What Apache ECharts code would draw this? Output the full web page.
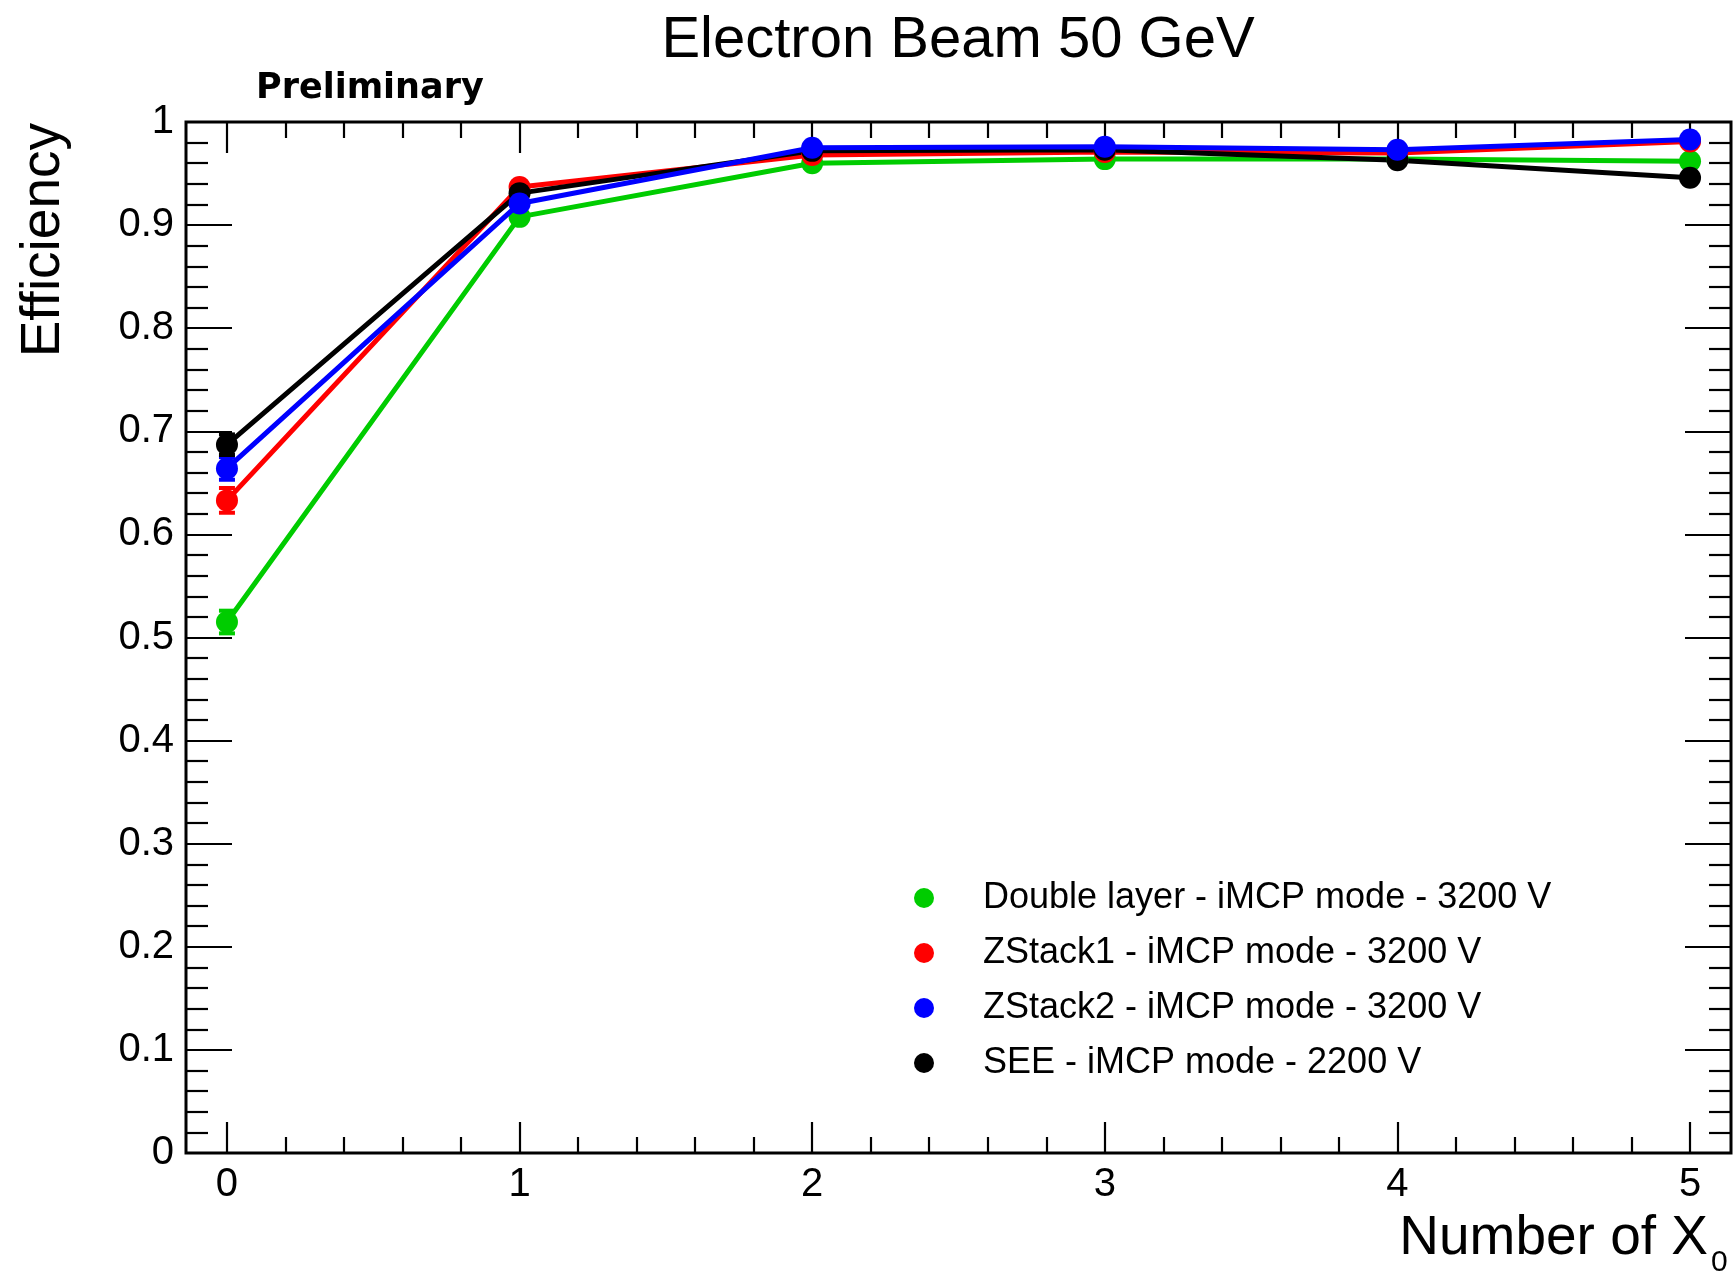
<!DOCTYPE html>
<html>
<head>
<meta charset="utf-8">
<script src="https://cdn.jsdelivr.net/npm/echarts@6.0.0/dist/echarts.min.js"></script>
<style>
html,body{margin:0;padding:0;background:#fff}
#main{width:1734px;height:1274px}
</style>
</head>
<body>
<div id="main"></div>
<script>
// 数据
var xValues = [0, 1, 2, 3, 4, 5];
var names = [
    'Double layer - iMCP mode - 3200 V',
    'ZStack1 - iMCP mode - 3200 V',
    'ZStack2 - iMCP mode - 3200 V',
    'SEE - iMCP mode - 2200 V'
];
var colors = ['#00cc00', '#ff0000', '#0000ff', '#000000'];
var effDouble = [0.515, 0.908, 0.960, 0.964, 0.964, 0.962];
var effZStack1 = [0.633, 0.937, 0.968, 0.971, 0.970, 0.981];
var effZStack2 = [0.664, 0.921, 0.975, 0.976, 0.973, 0.983];
var effSEE = [0.687, 0.931, 0.972, 0.973, 0.963, 0.946];
var errDouble = [0.011, 0.005, 0.004, 0.004, 0.004, 0.004];
var errZStack1 = [0.012, 0.005, 0.004, 0.004, 0.004, 0.004];
var errZStack2 = [0.011, 0.005, 0.004, 0.004, 0.004, 0.004];
var errSEE = [0.010, 0.005, 0.004, 0.004, 0.004, 0.004];
var xRange = [-0.14, 5.14];
var yRange = [0, 1];

var effs = [effDouble, effZStack1, effZStack2, effSEE];
var errs = [errDouble, errZStack1, errZStack2, errSEE];

// 画框位置
var frameL = 186, frameR = 1731, frameT = 122, frameB = 1153;
var frameW = frameR - frameL, frameH = frameB - frameT;
// 刻度用的内部网格 (0..5)
var tickL = frameL + (0 - xRange[0]) / (xRange[1] - xRange[0]) * frameW;
var tickR = frameL + (5 - xRange[0]) / (xRange[1] - xRange[0]) * frameW;

var FONT = 'Liberation Sans, Arial, Helvetica, sans-serif';

var myChart = echarts.init(document.getElementById('main'));

function pairs(ys) {
    var out = [];
    for (var i = 0; i < xValues.length; i++) out.push([xValues[i], ys[i]]);
    return out;
}

var errData = [];
for (var s = 0; s < effs.length; s++) {
    for (var i = 0; i < xValues.length; i++) {
        errData.push([xValues[i], effs[s][i], errs[s][i], s]);
    }
}

var tickStyle = { color: '#000', width: 2.2 };

var series = [{
    type: 'custom',
    xAxisIndex: 0,
    yAxisIndex: 0,
    data: errData,
    silent: true,
    renderItem: function (params, api) {
        var x = api.value(0), y = api.value(1), e = api.value(2);
        var c = colors[api.value(3)];
        var lo = api.coord([x, y - e]);
        var hi = api.coord([x, y + e]);
        var st = { stroke: c, lineWidth: 4 };
        return {
            type: 'group',
            children: [
                { type: 'line', shape: { x1: lo[0], y1: lo[1], x2: hi[0], y2: hi[1] }, style: st },
                { type: 'line', shape: { x1: lo[0] - 8, y1: lo[1], x2: lo[0] + 8, y2: lo[1] }, style: st },
                { type: 'line', shape: { x1: hi[0] - 8, y1: hi[1], x2: hi[0] + 8, y2: hi[1] }, style: st }
            ]
        };
    }
}];
for (var k = 0; k < effs.length; k++) {
    series.push({
        name: names[k],
        type: 'line',
        xAxisIndex: 0,
        yAxisIndex: 0,
        data: pairs(effs[k]),
        symbol: 'circle',
        symbolSize: 22,
        z: k === 2 ? 3 : 2,
        lineStyle: { color: colors[k], width: 5 },
        itemStyle: { color: colors[k] },
        emphasis: { disabled: true }
    });
}

var option = {
    backgroundColor: '#ffffff',
    animation: false,
    grid: [
        { left: frameL, top: frameT, width: frameW, height: frameH, show: true, borderColor: '#000', borderWidth: 3, containLabel: false },
        { left: tickL, top: frameT, width: tickR - tickL, height: frameH, show: false, containLabel: false }
    ],
    xAxis: [
        { gridIndex: 0, type: 'value', min: xRange[0], max: xRange[1], axisLine: { show: false, onZero: false }, axisTick: { show: false }, axisLabel: { show: false }, splitLine: { show: false } },
        {
            gridIndex: 1, type: 'value', position: 'bottom', min: 0, max: 5, interval: 1,
            axisLine: { show: false, onZero: false }, splitLine: { show: false },
            axisTick: { show: true, inside: true, length: 31, lineStyle: tickStyle },
            minorTick: { show: true, splitNumber: 5, length: 16, lineStyle: tickStyle },
            axisLabel: { show: true, margin: 12, fontSize: 40, color: '#000', fontFamily: FONT }
        },
        {
            gridIndex: 1, type: 'value', position: 'top', min: 0, max: 5, interval: 1,
            axisLine: { show: false, onZero: false }, splitLine: { show: false },
            axisTick: { show: true, inside: true, length: 31, lineStyle: tickStyle },
            minorTick: { show: true, splitNumber: 5, length: 16, lineStyle: tickStyle },
            axisLabel: { show: false }
        }
    ],
    yAxis: [
        {
            gridIndex: 0, type: 'value', position: 'left', min: yRange[0], max: yRange[1], interval: 0.1,
            axisLine: { show: false, onZero: false }, splitLine: { show: false },
            axisTick: { show: true, inside: true, length: 46, lineStyle: tickStyle },
            minorTick: { show: true, splitNumber: 5, length: 22, lineStyle: tickStyle },
            axisLabel: { show: true, margin: 12, fontSize: 40, color: '#000', fontFamily: FONT }
        },
        {
            gridIndex: 0, type: 'value', position: 'right', min: yRange[0], max: yRange[1], interval: 0.1,
            axisLine: { show: false, onZero: false }, splitLine: { show: false },
            axisTick: { show: true, inside: true, length: 46, lineStyle: tickStyle },
            minorTick: { show: true, splitNumber: 5, length: 22, lineStyle: tickStyle },
            axisLabel: { show: false }
        },
        { gridIndex: 1, type: 'value', min: 0, max: 1, show: false, axisLine: { onZero: false } }
    ],
    legend: {
        data: names,
        orient: 'vertical',
        left: 914,
        top: 880,
        padding: 0,
        itemGap: 19,
        itemWidth: 108,
        itemHeight: 20,
        icon: 'circle',
        selectedMode: false,
        textStyle: { fontSize: 36, lineHeight: 36, color: '#000', fontFamily: FONT }
    },
    graphic: [
        { type: 'text', x: 958, y: 41, style: { text: 'Electron Beam 50 GeV', font: '58px ' + FONT, fill: '#000', align: 'center', verticalAlign: 'middle' } },
        { type: 'text', x: 256, y: 89, style: { text: 'Preliminary', font: 'bold 35px DejaVu Sans, sans-serif', fill: '#000', align: 'left', verticalAlign: 'middle' } },
        { type: 'text', x: 44, y: 123, rotation: Math.PI / 2, style: { text: 'Efficiency', font: '55px ' + FONT, fill: '#000', align: 'right', verticalAlign: 'middle' } },
        { type: 'text', x: 1708, y: 1239, style: { text: 'Number of X', font: '55px ' + FONT, fill: '#000', align: 'right', verticalAlign: 'middle' } },
        { type: 'text', x: 1711, y: 1263, style: { text: '0', font: '30px ' + FONT, fill: '#000', align: 'left', verticalAlign: 'middle' } }
    ],
    series: series
};
myChart.setOption(option);
</script>
</body>
</html>
